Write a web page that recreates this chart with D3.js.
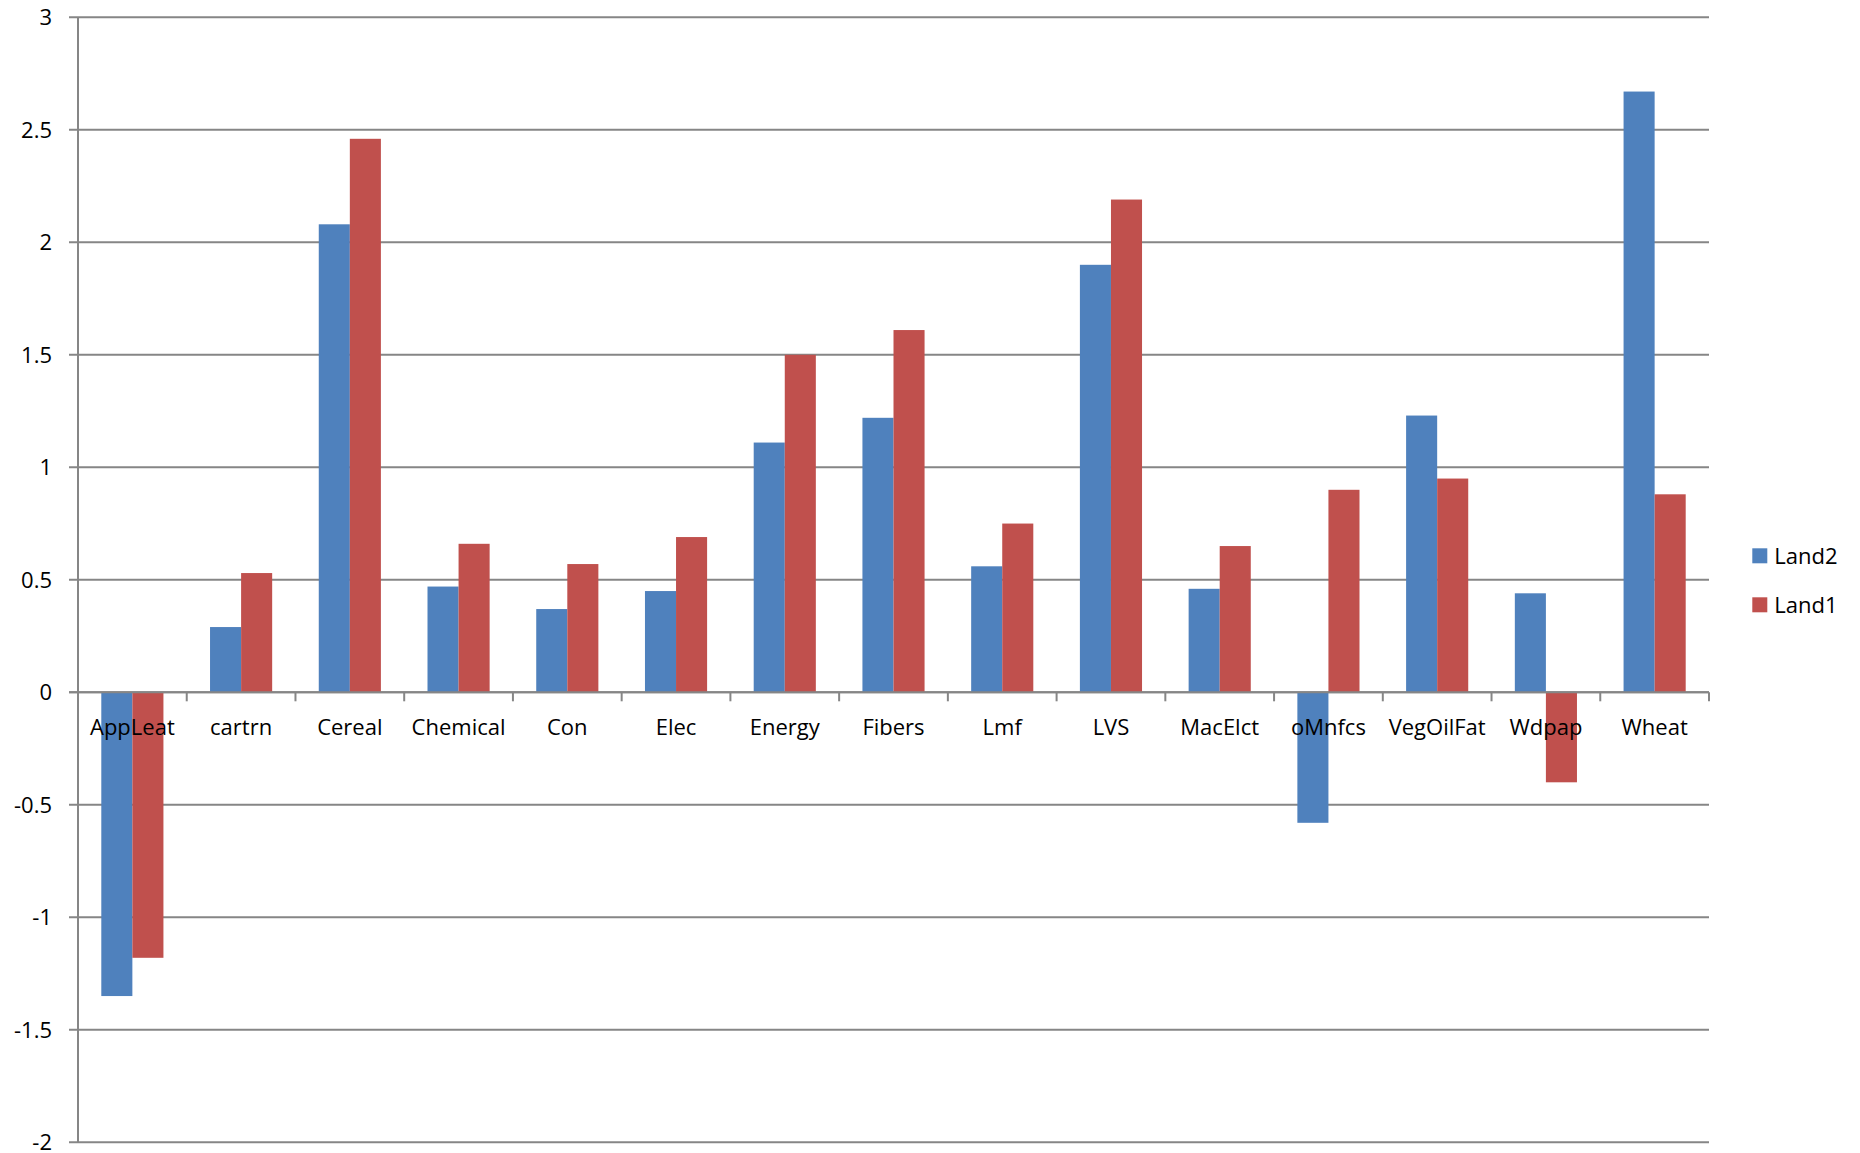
<!DOCTYPE html>
<html>
<head>
<meta charset="utf-8">
<script src="https://cdn.jsdelivr.net/npm/d3@7"></script>
<style>
  body { margin: 0; background: #fff; }
  svg text { font-family: "Open Sans", "Noto Sans", sans-serif; fill: #000; }
</style>
</head>
<body>
<svg id="chart" width="1860" height="1153"></svg>
<script>
// data
const categories = ['AppLeat', 'cartrn', 'Cereal', 'Chemical', 'Con', 'Elec', 'Energy',
  'Fibers', 'Lmf', 'LVS', 'MacElct', 'oMnfcs', 'VegOilFat', 'Wdpap', 'Wheat'];
const seriesNames = ['Land2', 'Land1'];
const land2 = [-1.35, 0.29, 2.08, 0.47, 0.37, 0.45, 1.11, 1.22, 0.56, 1.90, 0.46, -0.58, 1.23, 0.44, 2.67];
const land1 = [-1.18, 0.53, 2.46, 0.66, 0.57, 0.69, 1.50, 1.61, 0.75, 2.19, 0.65, 0.90, 0.95, -0.40, 0.88];
const yTicks = [-2, -1.5, -1, -0.5, 0, 0.5, 1, 1.5, 2, 2.5, 3];
const colors = ['#4F81BD', '#C0504D'];

const svg = d3.select('#chart');
const plotLeft = 78, plotRight = 1709, plotTop = 17.3, plotBottom = 1142.3;
const gridColor = '#868686';

let y = d3.scaleLinear().domain([-2, 3]).range([plotBottom, plotTop]);
let x0 = d3.scaleBand().domain(categories).range([plotLeft, plotRight]);
let x1 = d3.scaleBand().domain(seriesNames).range([0, x0.bandwidth()]).paddingOuter(0.75);

// horizontal gridlines + y labels
svg.append('g')
  .selectAll('line')
  .data(yTicks)
  .enter()
  .append('line')
  .attr('x1', plotLeft - 9)
  .attr('x2', plotRight)
  .attr('y1', d => y(d))
  .attr('y2', d => y(d))
  .attr('stroke', gridColor)
  .attr('stroke-width', 2);

svg.append('g')
  .selectAll('text')
  .data(yTicks)
  .enter()
  .append('text')
  .attr('x', 52)
  .attr('y', d => y(d))
  .attr('dy', '0.35em')
  .attr('text-anchor', 'end')
  .attr('font-size', 22)
  .text(d => String(d));

// bars
const rows = categories.map((c, i) => ({ cat: c, vals: [land2[i], land1[i]] }));
const groups = svg.append('g')
  .selectAll('g')
  .data(rows)
  .enter()
  .append('g')
  .attr('transform', d => `translate(${x0(d.cat)},0)`);

groups.selectAll('rect')
  .data(d => d.vals.map((v, k) => ({ v: v, s: seriesNames[k], k: k })))
  .enter()
  .append('rect')
  .attr('x', d => x1(d.s))
  .attr('width', x1.bandwidth())
  .attr('y', d => Math.min(y(d.v), y(0)))
  .attr('height', d => Math.abs(y(d.v) - y(0)))
  .attr('fill', d => colors[d.k]);

// axes lines
svg.append('line')
  .attr('x1', plotLeft).attr('x2', plotLeft)
  .attr('y1', plotTop).attr('y2', plotBottom)
  .attr('stroke', gridColor).attr('stroke-width', 2);

svg.append('line')
  .attr('x1', plotLeft - 9).attr('x2', plotRight)
  .attr('y1', y(0)).attr('y2', y(0))
  .attr('stroke', gridColor).attr('stroke-width', 2);

// category ticks below zero line
const boundaries = categories.map(c => x0(c)).concat([plotRight]);
svg.append('g')
  .selectAll('line')
  .data(boundaries)
  .enter()
  .append('line')
  .attr('x1', d => d).attr('x2', d => d)
  .attr('y1', y(0)).attr('y2', y(0) + 9)
  .attr('stroke', gridColor).attr('stroke-width', 2);

// category labels
svg.append('g')
  .selectAll('text')
  .data(categories)
  .enter()
  .append('text')
  .attr('x', d => x0(d) + x0.bandwidth() / 2)
  .attr('y', 735)
  .attr('text-anchor', 'middle')
  .attr('font-size', 22)
  .text(d => d);

// legend
const legend = svg.append('g')
  .selectAll('g')
  .data(seriesNames)
  .enter()
  .append('g')
  .attr('transform', (d, i) => `translate(1752.3,${548.3 + i * 49})`);

legend.append('rect')
  .attr('width', 15).attr('height', 15)
  .attr('fill', (d, i) => colors[i]);

legend.append('text')
  .attr('x', 22)
  .attr('y', 7.5)
  .attr('dy', '0.35em')
  .attr('font-size', 22)
  .text(d => d);
</script>
</body>
</html>
